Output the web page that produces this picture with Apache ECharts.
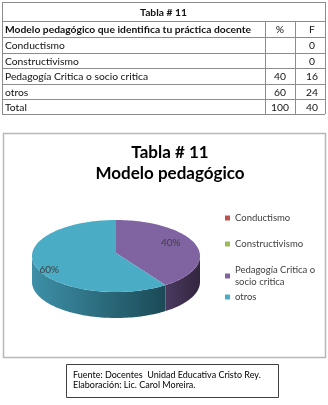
<!DOCTYPE html>
<html><head><meta charset="utf-8">
<script src="https://cdn.jsdelivr.net/npm/echarts@6/dist/echarts.min.js"></script>
<style>html,body{margin:0;padding:0;background:#fff}#c{width:328px;height:405px}</style>
</head><body><div id="c"></div>
<script>
// ---- data ----
const tableTitle = "Tabla # 11";
const headerCols = ["Modelo pedagógico que identifica tu práctica docente", "%", "F"];
const categories = ["Conductismo", "Constructivismo", "Pedagogía Critica o socio critica", "otros"];
const percents = ["", "", 40, 60];
const freqs = [0, 0, 16, 24];
const totalRow = ["Total", 100, 40];
const chartTitle = "Tabla # 11\nModelo pedagógico";
const footerLines = ["Fuente: Docentes  Unidad Educativa Cristo Rey.", "Elaboración: Lic. Carol Moreira."];

const colors = ['#C0504D', '#9BBB59', '#8064A2', '#4BACC6'];
const sideColors = [['#8a3a38','#5a2625'], ['#6e8640','#4a5a2b'], ['#4a3a60','#33263f'], ['#3d90a7','#1c4a57']];
const FONT = 'Lato';

const chart = echarts.init(document.getElementById('c'), null, {renderer: 'canvas'});

// ---- table graphic ----
const colX = [2, 265, 295, 325];
const rowY = [2, 21, 37, 53, 68, 84, 99, 114];
const lineC = '#8c8c8c';
const tbl = [];
function hline(y, x1, x2) { tbl.push({type:'line', shape:{x1:x1, y1:y, x2:x2, y2:y}, style:{stroke:lineC, lineWidth:1}}); }
function vline(x, y1, y2) { tbl.push({type:'line', shape:{x1:x, y1:y1, x2:x, y2:y2}, style:{stroke:lineC, lineWidth:1}}); }
function txt(t, x, y, align, bold) {
  tbl.push({type:'text', x:x, y:y, style:{text:String(t), fill:'#111', font:(bold?'bold ':'') + '10.3px ' + FONT, align:align, verticalAlign:'middle'}});
}
rowY.forEach(y => hline(y + 0.5, colX[0], colX[3]));
vline(colX[0] + 0.5, rowY[0], rowY[7]);
vline(colX[3] + 0.5, rowY[0], rowY[7]);
vline(colX[1] + 0.5, rowY[1], rowY[7]);
vline(colX[2] + 0.5, rowY[1], rowY[7]);
txt(tableTitle, (colX[0] + colX[3]) / 2, (rowY[0] + rowY[1]) / 2 + 1, 'center', true);
const rows = [headerCols].concat(categories.map((c, i) => [c, percents[i], freqs[i]])).concat([totalRow]);
rows.forEach((r, i) => {
  const yc = (rowY[i + 1] + rowY[i + 2]) / 2 + 1;
  txt(r[0], colX[0] + 3, yc, 'left', i === 0);
  txt(r[1], (colX[1] + colX[2]) / 2, yc, 'center', false);
  txt(r[2], (colX[2] + colX[3]) / 2 + 2, yc, 'center', false);
});

// ---- chart box + footer ----
const extra = [
  {type:'rect', shape:{x:3.5, y:133.5, width:322, height:224}, style:{fill:'none', stroke:'#b8b8b8', lineWidth:1.5}},
  {type:'rect', shape:{x:66.5, y:364.5, width:212, height:33}, style:{fill:'#fff', stroke:'#404040', lineWidth:1}},
  {type:'text', x:73, y:375.5, style:{text:footerLines[0], font:'9px ' + FONT, fill:'#000', verticalAlign:'middle'}},
  {type:'text', x:73, y:385.5, style:{text:footerLines[1], font:'9px ' + FONT, fill:'#000', verticalAlign:'middle'}}
];

// ---- 3D-looking pie via custom series ----
const total = freqs.reduce((a, b) => a + b, 0);
const CX = 116, CY = 256, RX = 84, RY = 36, DEPTH = 26;
function pt(theta, dy) { return [CX + RX * Math.sin(theta), CY - RY * Math.cos(theta) + (dy || 0)]; }
function arc(a, b, dy) {
  const pts = [], n = Math.max(2, Math.ceil((b - a) / 0.03));
  for (let k = 0; k <= n; k++) pts.push(pt(a + (b - a) * k / n, dy));
  return pts;
}
const starts = [];
let acc = 0;
freqs.forEach(v => { starts.push(acc); acc += v; });

function makeSeries(i) {
  return {
    type: 'custom', name: categories[i], coordinateSystem: 'none',
    itemStyle: {color: colors[i]},
    data: [[freqs[i], percents[i]]],
    renderItem: function (params, api) {
      const v = api.value(0);
      if (!v) return {type:'group', children:[]};
      const a = starts[i] / total * 2 * Math.PI, b = (starts[i] + v) / total * 2 * Math.PI;
      const children = [];
      const sa = Math.max(a, Math.PI / 2), sb = Math.min(b, 1.5 * Math.PI);
      if (sb > sa) {
        const top = arc(sa, sb, 0), bot = arc(sa, sb, DEPTH).reverse();
        children.push({type:'polygon', z2:1, shape:{points: top.concat(bot)},
          style:{fill: new echarts.graphic.LinearGradient(1, 0, 0, 0, [{offset:0, color:sideColors[i][1]}, {offset:1, color:sideColors[i][0]}])}});
      }
      children.push({type:'polygon', z2:10, shape:{points: [[CX, CY - 3]].concat(arc(a, b, 0))}, style:{fill: colors[i]}});
      const mid = (a + b) / 2;
      const lp = [CX + RX * 0.76 * Math.sin(mid) - 6, CY - RY * 1.2 * Math.cos(mid)];
      children.push({type:'text', z2:20, x: lp[0], y: lp[1], style:{text: api.value(1) + '%', font:'10px ' + FONT, fill:'#404040', align:'center', verticalAlign:'middle'}});
      return {type:'group', children: children};
    }
  };
}

const legendText = {fontFamily: FONT, fontSize: 9.5, lineHeight: 12, color: '#404040'};
chart.setOption({
  backgroundColor: '#fff',
  animation: false,
  title: {text: chartTitle, left: 165, top: 137, textAlign: 'center',
    textStyle: {fontFamily: FONT, fontWeight: 'bold', fontSize: 17, lineHeight: 21, color: '#000'}},
  legend: [{
    data: categories.slice(0, 3), orient: 'vertical', left: 225, top: 212, padding: 0, itemWidth: 5, itemHeight: 5, itemGap: 14,
    icon: 'rect', textStyle: legendText,
    formatter: n => n.replace(' socio', '\nsocio'), selectedMode: false
  }, {
    data: categories.slice(3), orient: 'vertical', left: 225, top: 291, padding: 0, itemWidth: 5, itemHeight: 5,
    icon: 'rect', textStyle: legendText, selectedMode: false
  }],
  graphic: tbl.concat(extra),
  series: categories.map((c, i) => makeSeries(i))
});
</script></body></html>
